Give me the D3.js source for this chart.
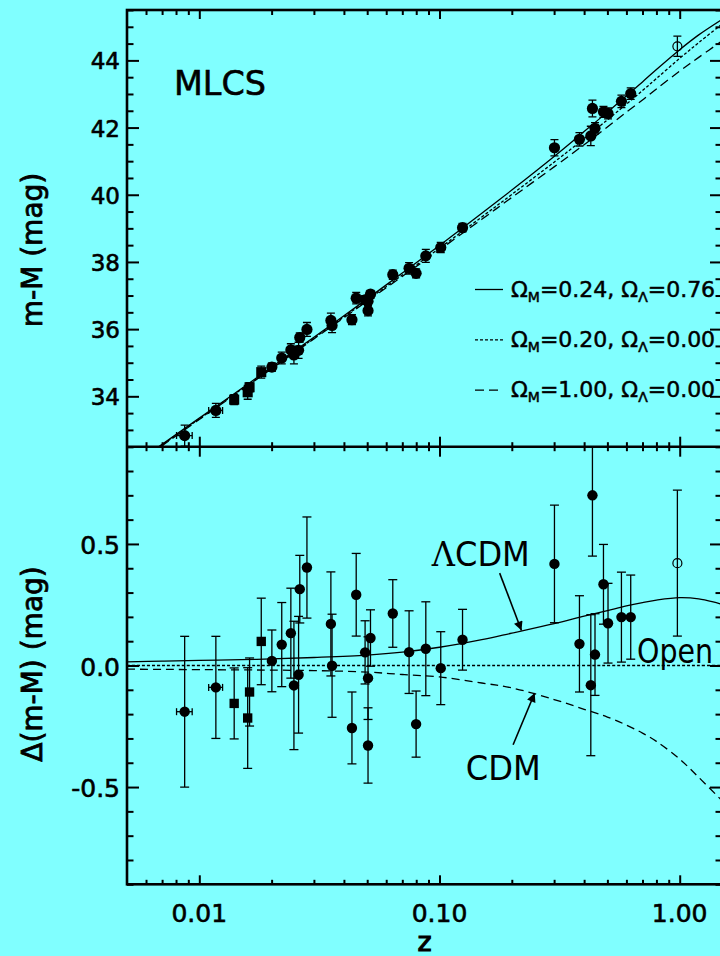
<!DOCTYPE html>
<html>
<head>
<meta charset="utf-8">
<script src="https://cdn.jsdelivr.net/npm/d3@7"></script>
<style>
  html, body { margin: 0; padding: 0; background: #80ffff; }
  svg { display: block; font-family: "DejaVu Sans", sans-serif; }
</style>
</head>
<body>
<div id="chart"></div>
<script>
// supernova points: redshift, residual from open model, error, distance modulus
var zPts = [0.00869, 0.01172, 0.01397, 0.0159, 0.01619, 0.01811, 0.02005, 0.02204, 0.02405, 0.02477,
            0.0259, 0.0262, 0.02806, 0.0353, 0.0357, 0.0432, 0.045, 0.049, 0.0504, 0.0504,
            0.0516, 0.0639, 0.0747, 0.0799, 0.0877, 0.1012, 0.1247, 0.301, 0.3825, 0.4265,
            0.4332, 0.444, 0.4815, 0.503, 0.572, 0.6253, 0.978];
var dmu = [-0.19, -0.09, -0.156, -0.216, -0.109, 0.099, 0.019, 0.086, 0.133, -0.082,
           -0.038, 0.314, 0.403, 0.171, -0.001, -0.257, 0.291, 0.054, -0.052, -0.329,
           0.113, 0.214, 0.055, -0.241, 0.069, -0.011, 0.106, 0.418, 0.089, -0.081,
           0.70, 0.045, 0.334, 0.174, 0.199, 0.199, 0.421];
var muErr = [0.31, 0.21, 0.146, 0.207, 0.14, 0.178, 0.127, 0.173, 0.185, 0.264,
             0.24, 0.139, 0.208, 0.214, 0.212, 0.148, 0.17, 0.13, 0.17, 0.155,
             0.116, 0.139, 0.17, 0.136, 0.193, 0.15, 0.125, 0.242, 0.198, 0.29,
             0.25, 0.168, 0.164, 0.164, 0.185, 0.173, 0.30];
var mu = [32.83, 33.58, 33.90, 34.12, 34.27, 34.72, 34.87, 35.14, 35.38, 35.23,
          35.37, 35.75, 35.99, 36.26, 36.11, 36.28, 36.92, 36.87, 36.83, 36.55,
          37.04, 37.62, 37.81, 37.66, 38.18, 38.43, 39.02, 41.40, 41.65, 41.75,
          42.57, 41.98, 42.47, 42.42, 42.78, 43.01, 44.42];
var zErr = [0.00065, 0.00078, 0, 0, 0, 0, 0, 0, 0, 0,
            0, 0, 0, 0, 0, 0, 0, 0, 0, 0,
            0, 0, 0, 0, 0, 0, 0, 0, 0, 0,
            0, 0, 0, 0, 0, 0, 0];
// c = filled circle, s = filled square, o = open circle
var shape = ["c", "c", "s", "s", "s", "s", "c", "c", "c", "c",
             "c", "c", "c", "c", "c", "c", "c", "c", "c", "c",
             "c", "c", "c", "c", "c", "c", "c", "c", "c", "c",
             "c", "c", "c", "c", "c", "c", "o"];

// model curves
var zCurve = [0.005, 0.007, 0.01, 0.015, 0.02, 0.03, 0.05, 0.07, 0.1, 0.15,
              0.2, 0.3, 0.4, 0.5, 0.6, 0.7, 0.8, 1.0, 1.2, 1.5];
var muLCDM = [31.84, 32.57, 33.35, 34.23, 34.87, 35.76, 36.90, 37.67, 38.49, 39.45,
              40.14, 41.14, 41.88, 42.46, 42.95, 43.36, 43.73, 44.32, 44.76, 45.22];
var muOpen = [31.82, 32.55, 33.33, 34.21, 34.84, 35.73, 36.86, 37.61, 38.41, 39.34,
              40.01, 40.97, 41.67, 42.23, 42.70, 43.10, 43.46, 44.06, 44.53, 45.08];
var muCDM = [31.80, 32.53, 33.31, 34.19, 34.82, 35.71, 36.83, 37.57, 38.36, 39.27,
             39.92, 40.83, 41.49, 42.02, 42.46, 42.82, 43.15, 43.68, 44.09, 44.58];
var dLCDM = [0.015, 0.018, 0.021, 0.024, 0.027, 0.033, 0.043, 0.055, 0.075, 0.106,
             0.133, 0.172, 0.203, 0.226, 0.245, 0.259, 0.269, 0.279, 0.274, 0.252];
var dOpen = [0, 0, 0, 0, 0, 0, 0, 0, 0, 0,
             0, 0, 0, 0, 0, 0, 0, 0, 0, 0];
var dCDM = [-0.015, -0.016, -0.017, -0.018, -0.019, -0.021, -0.027, -0.037, -0.047, -0.072,
            -0.092, -0.140, -0.180, -0.212, -0.245, -0.278, -0.312, -0.385, -0.460, -0.556];

// ticks
var xMajor = [0.01, 0.1, 1];
var xLabels = ["0.01", "0.10", "1.00"];
var yTopMajor = [34, 36, 38, 40, 42, 44];
var yBotMajor = [-0.5, 0, 0.5];
var yBotLabels = ["-0.5", "0.0", "0.5"];
var legendText = [["0.24", "0.76"], ["0.20", "0.00"], ["1.00", "0.00"]];
var legendDash = [null, "3,2", "9,5"];

var W = 720, H = 956;
var pL = 127, pR = 722, pT = 10, pM = 446.7, pB = 884.3;

var svg = d3.select("#chart").append("svg")
    .attr("width", W).attr("height", H);

svg.append("rect").attr("width", W).attr("height", H).attr("fill", "#80ffff");

var x = d3.scaleLog().domain([0.005, 1.5]).range([pL, pR]);
var yTop = d3.scaleLinear().domain([32.5, 45.5]).range([pM, pT]);
var yBot = d3.scaleLinear().domain([-0.9, 0.9]).range([pB, pM]);

var defs = svg.append("defs");
defs.append("clipPath").attr("id", "clipTop").append("rect")
    .attr("x", pL).attr("y", pT).attr("width", pR - pL).attr("height", pM - pT);
defs.append("clipPath").attr("id", "clipBot").append("rect")
    .attr("x", pL).attr("y", pM).attr("width", pR - pL).attr("height", pB - pM);
defs.append("marker").attr("id", "arrow")
    .attr("viewBox", "0 0 10 10").attr("refX", 10).attr("refY", 5)
    .attr("markerWidth", 12).attr("markerHeight", 9).attr("markerUnits", "userSpaceOnUse")
    .attr("orient", "auto")
    .append("path").attr("d", "M0,0L10,5L0,10Z").attr("fill", "#000");

// heavier text like the old PostScript rendering
function heavy(sel, w) {
    return sel.attr("stroke", "#000").attr("stroke-width", w).attr("paint-order", "stroke");
}

// ---- ticks ----
var xMinor = x.ticks().filter(function (d) {
    return xMajor.indexOf(d) < 0 && d > 0.005;
});

function xTicks(y, vals, size) {
    svg.append("g")
        .attr("transform", "translate(0," + y + ")")
        .call(d3.axisBottom(x).tickValues(vals).tickSize(size).tickFormat(""))
        .call(function (g) { g.select(".domain").remove(); })
        .selectAll("line").attr("stroke", "#000").attr("stroke-width", 2);
}
xTicks(pT, xMajor, 9);
xTicks(pT, xMinor, 5);
xTicks(pM, xMajor, 10);
xTicks(pM, xMajor, -10);
xTicks(pM, xMinor, 4.5);
xTicks(pM, xMinor, -4.5);
xTicks(pB, xMajor, -9);
xTicks(pB, xMinor, -4.5);

function yTicks(scale, vals, size, xpos) {
    svg.append("g")
        .attr("transform", "translate(" + xpos + ",0)")
        .call(d3.axisLeft(scale).tickValues(vals).tickSize(size).tickFormat(""))
        .call(function (g) { g.select(".domain").remove(); })
        .selectAll("line").attr("stroke", "#000").attr("stroke-width", 2);
}
var yTopMinor = yTop.ticks(26).filter(function (d) { return yTopMajor.indexOf(d) < 0; });
var yBotMinor = yBot.ticks(18).filter(function (d) { return Math.abs(d * 2 - Math.round(d * 2)) > 1e-6; });
yTicks(yTop, yTopMajor, -12, pL);
yTicks(yTop, yTopMinor, -6.5, pL);
yTicks(yTop, yTopMajor, 12, pR);
yTicks(yTop, yTopMinor, 6.5, pR);
yTicks(yBot, yBotMajor, -12, pL);
yTicks(yBot, yBotMinor, -6.5, pL);
yTicks(yBot, yBotMajor, 12, pR);
yTicks(yBot, yBotMinor, 6.5, pR);

// tick labels
heavy(svg.append("g").selectAll("text").data(yTopMajor).enter().append("text")
    .attr("x", 120).attr("y", function (d) { return yTop(d) + 9; })
    .attr("text-anchor", "end").attr("font-size", 23)
    .text(function (d) { return d; }), 0.6);
heavy(svg.append("g").selectAll("text").data(yBotMajor).enter().append("text")
    .attr("x", 120).attr("y", function (d) { return yBot(d) + 10; })
    .attr("text-anchor", "end").attr("font-size", 25)
    .text(function (d, i) { return yBotLabels[i]; }), 0.6);
heavy(svg.append("g").selectAll("text").data(xMajor).enter().append("text")
    .attr("x", function (d) { return x(d); }).attr("y", 922)
    .attr("text-anchor", "middle").attr("font-size", 25)
    .text(function (d, i) { return xLabels[i]; }), 0.6);

// axis titles
heavy(svg.append("text")
    .attr("transform", "translate(42,250) rotate(-90)")
    .attr("text-anchor", "middle").attr("font-size", 28)
    .text("m-M (mag)"), 0.8);
heavy(svg.append("text")
    .attr("transform", "translate(42,664) rotate(-90)")
    .attr("text-anchor", "middle").attr("font-size", 28)
    .text("\u0394(m-M) (mag)"), 0.8);
heavy(svg.append("text")
    .attr("x", (pL + pR) / 2).attr("y", 951)
    .attr("text-anchor", "middle").attr("font-size", 27)
    .text("z"), 1);

// ---- curves ----
function drawCurve(layer, scale, vals, dash) {
    var line = d3.line()
        .x(function (d, i) { return x(zCurve[i]); })
        .y(function (d) { return scale(d); })
        .curve(d3.curveCatmullRom.alpha(0.5));
    layer.append("path")
        .attr("d", line(vals))
        .attr("fill", "none").attr("stroke", "#000").attr("stroke-width", 1.3)
        .attr("stroke-dasharray", dash);
}
var topLayer = svg.append("g").attr("clip-path", "url(#clipTop)");
var botLayer = svg.append("g").attr("clip-path", "url(#clipBot)");
drawCurve(topLayer, yTop, muLCDM, null);
drawCurve(topLayer, yTop, muOpen, "3,2");
drawCurve(topLayer, yTop, muCDM, "9,5");
drawCurve(botLayer, yBot, dLCDM, null);
drawCurve(botLayer, yBot, dOpen, "3,2");
drawCurve(botLayer, yBot, dCDM, "8,5");

// ---- data points ----
function drawPoints(layer, scale, vals, cap, r) {
    var idx = d3.range(zPts.length);
    var g = layer.append("g").attr("stroke", "#000").attr("stroke-width", 1.3);
    idx.forEach(function (i) {
        var cx = x(zPts[i]);
        var y0 = scale(vals[i] - muErr[i]), y1 = scale(vals[i] + muErr[i]);
        g.append("line").attr("x1", cx).attr("x2", cx).attr("y1", y0).attr("y2", y1);
        g.append("line").attr("x1", cx - cap).attr("x2", cx + cap).attr("y1", y0).attr("y2", y0);
        g.append("line").attr("x1", cx - cap).attr("x2", cx + cap).attr("y1", y1).attr("y2", y1);
        if (zErr[i] > 0) {
            var cy = scale(vals[i]);
            var xa = x(zPts[i] - zErr[i]), xb = x(zPts[i] + zErr[i]);
            g.append("line").attr("x1", xa).attr("x2", xb).attr("y1", cy).attr("y2", cy);
            g.append("line").attr("x1", xa).attr("x2", xa).attr("y1", cy - 3.5).attr("y2", cy + 3.5);
            g.append("line").attr("x1", xb).attr("x2", xb).attr("y1", cy - 3.5).attr("y2", cy + 3.5);
        }
    });
    idx.forEach(function (i) {
        var cx = x(zPts[i]), cy = scale(vals[i]);
        if (shape[i] === "s") {
            layer.append("rect").attr("x", cx - r * 0.9).attr("y", cy - r * 0.9)
                .attr("width", r * 1.8).attr("height", r * 1.8).attr("fill", "#000");
        } else if (shape[i] === "o") {
            layer.append("circle").attr("cx", cx).attr("cy", cy).attr("r", 4.5)
                .attr("fill", "none").attr("stroke", "#000").attr("stroke-width", 1.2);
        } else {
            layer.append("circle").attr("cx", cx).attr("cy", cy).attr("r", r).attr("fill", "#000");
        }
    });
}
drawPoints(topLayer, yTop, mu, 4, 5.6);
drawPoints(botLayer, yBot, dmu, 4.5, 5.2);

// ---- annotations ----
heavy(svg.append("text").attr("x", 174).attr("y", 95)
    .attr("font-size", 34).attr("textLength", 92).attr("lengthAdjust", "spacingAndGlyphs")
    .text("MLCS"), 0.6);

var lab = svg.append("text").attr("x", x(0.0929)).attr("y", yBot(0.41))
    .attr("font-size", 34).attr("textLength", 98).attr("lengthAdjust", "spacingAndGlyphs");
lab.append("tspan").attr("font-family", "DejaVu Serif").text("\u039B");
lab.append("tspan").text("CDM");
svg.append("text").attr("x", x(0.1287)).attr("y", yBot(-0.47))
    .attr("font-size", 34).attr("textLength", 75).attr("lengthAdjust", "spacingAndGlyphs")
    .text("CDM");
svg.append("text").attr("x", x(0.664)).attr("y", yBot(0.01))
    .attr("font-size", 34).attr("textLength", 76).attr("lengthAdjust", "spacingAndGlyphs")
    .text("Open");

svg.append("line")
    .attr("x1", x(0.178)).attr("y1", yBot(0.38))
    .attr("x2", x(0.2194)).attr("y2", yBot(0.144))
    .attr("stroke", "#000").attr("stroke-width", 1.6).attr("marker-end", "url(#arrow)");
svg.append("line")
    .attr("x1", x(0.2025)).attr("y1", yBot(-0.326))
    .attr("x2", x(0.2491)).attr("y2", yBot(-0.113))
    .attr("stroke", "#000").attr("stroke-width", 1.6).attr("marker-end", "url(#arrow)");

// legend
legendText.forEach(function (t, i) {
    var ly = 289.5 + i * 50.3;
    svg.append("line").attr("x1", 475).attr("x2", 503).attr("y1", ly).attr("y2", ly)
        .attr("stroke", "#000").attr("stroke-width", 1.3).attr("stroke-dasharray", legendDash[i]);
    var tx = heavy(svg.append("text").attr("x", 511).attr("y", ly + 7).attr("font-size", 22), 0.5);
    tx.append("tspan").text("\u03A9");
    tx.append("tspan").attr("font-size", 14).attr("dy", 5).text("M");
    tx.append("tspan").attr("dy", -5).text("=" + t[0] + ", \u03A9");
    tx.append("tspan").attr("font-size", 14).attr("dy", 5).text("\u039B");
    tx.append("tspan").attr("dy", -5).text("=" + t[1]);
});

// frame
svg.append("rect").attr("x", pL).attr("y", pT)
    .attr("width", pR - pL).attr("height", pB - pT)
    .attr("fill", "none").attr("stroke", "#000").attr("stroke-width", 2.6);
svg.append("line").attr("x1", pL).attr("x2", pR).attr("y1", pM).attr("y2", pM)
    .attr("stroke", "#000").attr("stroke-width", 2.6);
</script>
</body>
</html>
